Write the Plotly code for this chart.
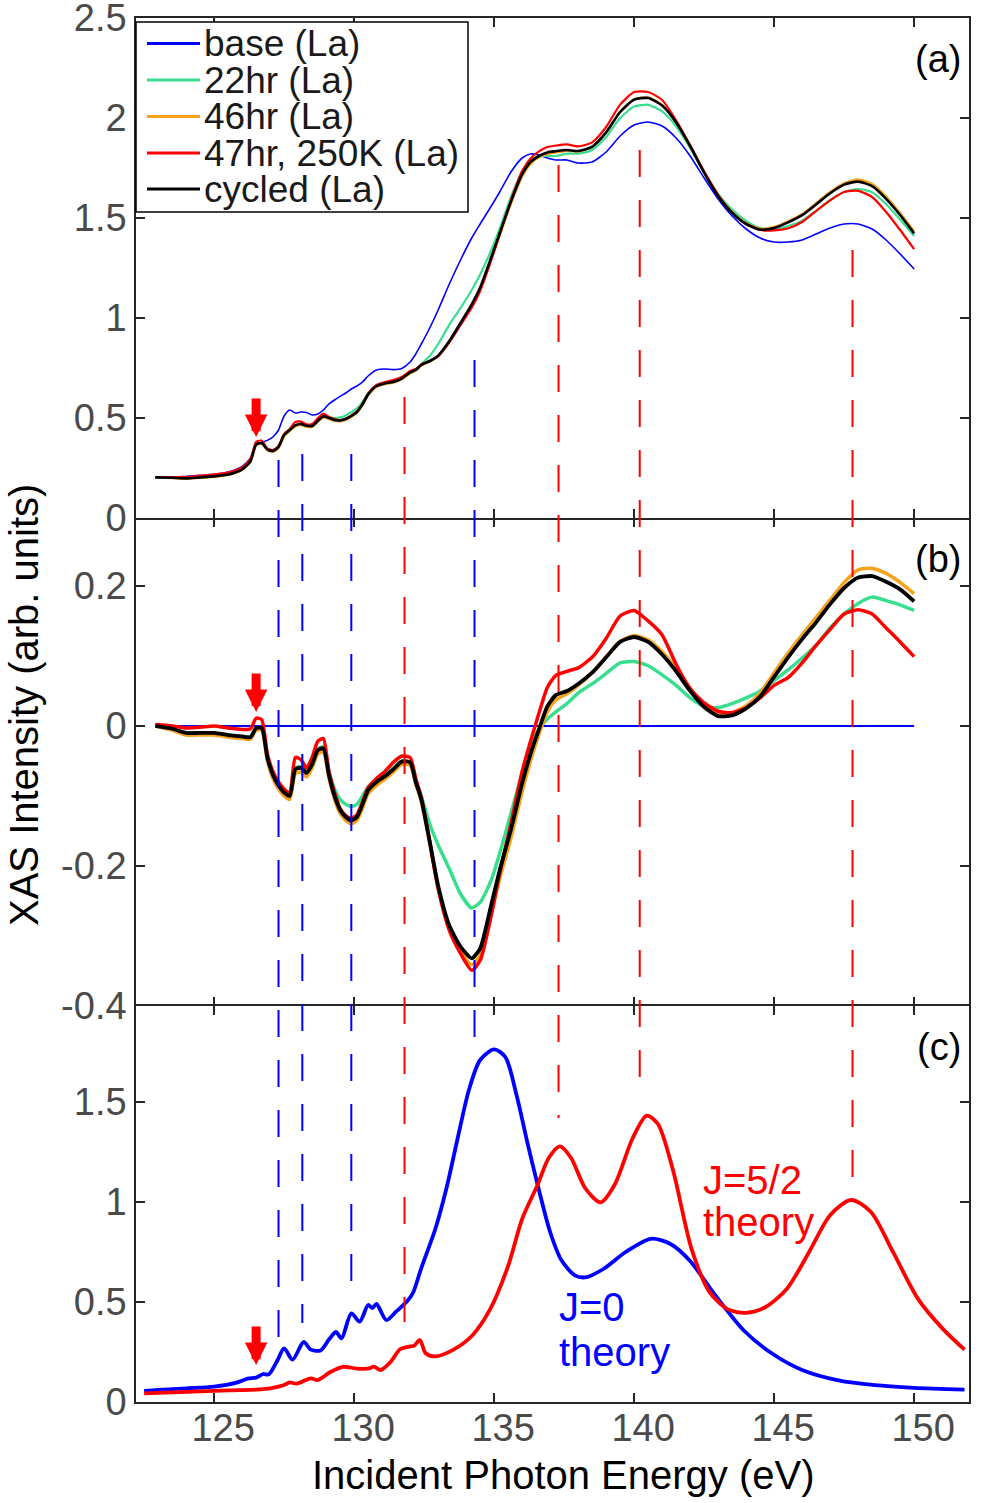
import plotly.graph_objects as go

# ---------------- data ----------------
energy = [122.9, 123.5, 124.0, 124.5, 125.0, 125.5, 126.0, 126.3, 126.5, 126.7,
          126.9, 127.1, 127.3, 127.5, 127.7, 127.9, 128.1, 128.3, 128.5, 128.7,
          128.9, 129.1, 129.3, 129.5, 129.7, 129.9, 130.1, 130.3, 130.5, 130.8,
          131.1, 131.4, 131.7, 132.0, 132.2, 132.4, 132.7, 133.0, 133.4, 133.8,
          134.2, 134.5, 134.9, 135.2, 135.6, 136.0, 136.3, 136.6, 136.9, 137.2,
          137.6, 138.0, 138.5, 139.0, 139.5, 140.0, 140.5, 141.0, 141.5, 142.0,
          142.5, 143.0, 143.5, 144.0, 144.5, 145.0, 145.5, 146.0, 146.5, 147.0,
          147.5, 148.0, 148.5, 149.0, 149.5, 150.0]

base_la = [0.203, 0.205, 0.208, 0.213, 0.218, 0.230, 0.258, 0.300, 0.370, 0.378,
           0.388, 0.405, 0.440, 0.510, 0.540, 0.525, 0.530, 0.528, 0.515, 0.520,
           0.540, 0.570, 0.590, 0.608, 0.625, 0.645, 0.660, 0.680, 0.710, 0.740,
           0.745, 0.742, 0.748, 0.780, 0.820, 0.870, 0.950, 1.040, 1.170, 1.290,
           1.400, 1.470, 1.560, 1.630, 1.730, 1.800, 1.820, 1.815, 1.800, 1.790,
           1.790, 1.775, 1.780, 1.830, 1.910, 1.965, 1.980, 1.960, 1.900, 1.810,
           1.700, 1.595, 1.510, 1.445, 1.400, 1.380, 1.380, 1.390, 1.420, 1.450,
           1.470, 1.470, 1.445, 1.390, 1.320, 1.245]

# difference spectra (sample - base), panel (b)
diff_22hr = [0.000, -0.004, -0.010, -0.010, -0.010, -0.013, -0.015, -0.015, -0.004, -0.004,
             -0.043, -0.068, -0.083, -0.093, -0.097, -0.060, -0.058, -0.064, -0.052, -0.033,
             -0.030, -0.065, -0.090, -0.105, -0.112, -0.115, -0.112, -0.100, -0.087, -0.078,
             -0.070, -0.060, -0.050, -0.052, -0.078, -0.100, -0.140, -0.170, -0.204, -0.240,
             -0.260, -0.252, -0.220, -0.182, -0.125, -0.068, -0.030, -0.005, 0.010, 0.020,
             0.032, 0.047, 0.060, 0.075, 0.090, 0.092, 0.086, 0.073, 0.058, 0.040,
             0.028, 0.026, 0.032, 0.040, 0.050, 0.065, 0.080, 0.097, 0.115, 0.140,
             0.160, 0.175, 0.184, 0.179, 0.173, 0.165]

diff_46hr = [0.000, -0.006, -0.013, -0.013, -0.013, -0.016, -0.018, -0.019, -0.006, -0.006,
             -0.050, -0.075, -0.090, -0.100, -0.105, -0.068, -0.066, -0.073, -0.060, -0.040,
             -0.037, -0.075, -0.105, -0.125, -0.135, -0.140, -0.135, -0.117, -0.097, -0.085,
             -0.076, -0.066, -0.055, -0.056, -0.083, -0.108, -0.168, -0.232, -0.290, -0.322,
             -0.341, -0.328, -0.268, -0.218, -0.160, -0.094, -0.050, -0.012, 0.020, 0.037,
             0.046, 0.058, 0.076, 0.099, 0.121, 0.129, 0.123, 0.106, 0.082, 0.054,
             0.030, 0.018, 0.019, 0.029, 0.047, 0.076, 0.104, 0.130, 0.155, 0.180,
             0.205, 0.223, 0.225, 0.218, 0.205, 0.189]

diff_47hr = [0.002, 0.000, -0.003, -0.002, 0.000, -0.003, -0.005, -0.004, 0.011, 0.009,
             -0.040, -0.065, -0.080, -0.090, -0.095, -0.045, -0.048, -0.060, -0.045, -0.022,
             -0.018, -0.065, -0.095, -0.118, -0.128, -0.132, -0.127, -0.108, -0.088, -0.075,
             -0.065, -0.052, -0.043, -0.045, -0.075, -0.102, -0.165, -0.232, -0.292, -0.325,
             -0.349, -0.335, -0.270, -0.210, -0.140, -0.065, -0.022, 0.018, 0.055, 0.072,
             0.078, 0.083, 0.098, 0.125, 0.157, 0.165, 0.150, 0.130, 0.088, 0.053,
             0.033, 0.021, 0.019, 0.026, 0.040, 0.058, 0.069, 0.090, 0.115, 0.138,
             0.160, 0.166, 0.160, 0.140, 0.120, 0.099]

diff_cycled = [0.000, -0.004, -0.010, -0.010, -0.010, -0.013, -0.015, -0.016, -0.003, -0.003,
               -0.045, -0.070, -0.085, -0.095, -0.100, -0.062, -0.060, -0.067, -0.055, -0.035,
               -0.032, -0.070, -0.100, -0.120, -0.130, -0.135, -0.130, -0.112, -0.092, -0.080,
               -0.072, -0.062, -0.051, -0.052, -0.080, -0.105, -0.165, -0.228, -0.285, -0.315,
               -0.332, -0.318, -0.255, -0.206, -0.148, -0.082, -0.040, -0.005, 0.028, 0.044,
               0.050, 0.060, 0.076, 0.098, 0.120, 0.127, 0.120, 0.102, 0.078, 0.050,
               0.027, 0.014, 0.015, 0.025, 0.042, 0.070, 0.098, 0.124, 0.148, 0.174,
               0.197, 0.212, 0.214, 0.206, 0.195, 0.178]

# theory, panel (c)
j0_energy = [122.5, 123.0, 124.0, 125.0, 125.8, 126.2, 126.5, 126.75, 126.95, 127.25,
             127.5, 127.8, 128.2, 128.45, 128.8, 129.1, 129.35, 129.55, 129.9, 130.2,
             130.5, 130.65, 130.8, 131.15, 131.5, 131.9, 132.1, 132.4, 132.9, 133.3,
             133.7, 134.1, 134.5, 135.0, 135.4, 135.8, 136.2, 136.6, 137.0, 137.4,
             137.9, 138.3, 138.9, 139.7, 140.6, 141.3, 142.0, 142.8, 143.9, 144.9,
             146.0, 147.3, 148.6, 150.0, 151.8]
j0_theory = [0.055, 0.060, 0.068, 0.077, 0.097, 0.117, 0.122, 0.140, 0.138, 0.205,
             0.268, 0.212, 0.300, 0.262, 0.258, 0.312, 0.350, 0.318, 0.443, 0.402,
             0.485, 0.470, 0.490, 0.410, 0.452, 0.505, 0.545, 0.670, 0.865, 1.070,
             1.320, 1.560, 1.710, 1.763, 1.725, 1.535, 1.290, 1.060, 0.850, 0.710,
             0.632, 0.624, 0.665, 0.750, 0.816, 0.790, 0.705, 0.552, 0.360, 0.245,
             0.160, 0.108, 0.084, 0.071, 0.062]

j52_energy = [122.5, 123.5, 124.5, 125.5, 126.5, 127.0, 127.5, 127.7, 127.95, 128.45,
              128.7, 129.15, 129.6, 130.1, 130.55, 130.7, 130.95, 131.3, 131.65, 132.0,
              132.15, 132.35, 132.55, 132.9, 133.55, 134.2, 134.85, 135.5, 136.0, 136.55,
              136.95, 137.35, 137.75, 138.25, 138.8, 139.3, 139.95, 140.45, 140.85, 141.4,
              142.05, 142.7, 143.35, 144.0, 144.65, 145.45, 146.25, 147.0, 147.75, 148.45,
              149.25, 150.15, 151.05, 151.8]
j52_theory = [0.043, 0.048, 0.053, 0.058, 0.062, 0.068, 0.085, 0.098, 0.092, 0.118,
              0.110, 0.150, 0.176, 0.167, 0.168, 0.177, 0.160, 0.200, 0.265, 0.278,
              0.282, 0.310, 0.245, 0.228, 0.262, 0.330, 0.462, 0.680, 0.915, 1.085,
              1.220, 1.278, 1.220, 1.070, 0.998, 1.085, 1.320, 1.432, 1.390, 1.153,
              0.766, 0.548, 0.463, 0.446, 0.471, 0.565, 0.750, 0.934, 1.010, 0.951,
              0.749, 0.513, 0.362, 0.262]

# vertical guide lines: energy, start value in (a), end value in (c)
blue_guide_energy = [127.3, 128.15, 129.9, 134.3]
blue_guide_top = [0.29, 0.32, 0.32, 0.79]
blue_guide_bottom = [0.32, 0.395, 0.525, 1.76]
red_guide_energy = [131.8, 137.3, 140.2, 147.8]
red_guide_top = [0.605, 1.765, 1.84, 1.34]
red_guide_bottom = [0.40, 1.42, 1.51, 1.07]

arrow_energy = 126.5
arrow_tips = {"y": 0.405, "y2": 0.02, "y3": 0.185}

series_names = ["base (La)", "22hr (La)", "46hr (La)", "47hr, 250K (La)", "cycled (La)"]
series_colors = ["#0000FF", "#38DE8E", "#F7A21B", "#FF0000", "#000000"]

# ---------------- layout geometry ----------------
W, H = 982, 1503
ML, MR, MT, MB = 136, 13, 18, 101
PW, PH = W - ML - MR, H - MT - MB
dom_a = [884 / PH, 1.0]
dom_b = [396 / PH, 884 / PH]
dom_c = [0.0, 396 / PH]
rng_x = [122.21, 151.96]
rng_a = [0, 2.5]
rng_b = [-0.4, 0.297]
rng_c = [0, 1.98]


def to_paper(dom, rng, v):
    return dom[0] + (v - rng[0]) / (rng[1] - rng[0]) * (dom[1] - dom[0])


def px_x(px):
    return (px - ML) / PW


def px_y(py):
    return 1 - (py - MT) / PH


FONT = "Liberation Sans, Arial, sans-serif"
AX = "#262626"

fig = go.Figure()

diffs = [[0.0 for _ in base_la], diff_22hr, diff_46hr, diff_47hr, diff_cycled]
widths_a = [1.6, 2.2, 2.2, 2.2, 2.6]
widths_b = [2.0, 3.5, 3.5, 3.5, 3.8]
for name, col, d, wa in zip(series_names, series_colors, diffs, widths_a):
    fig.add_trace(go.Scatter(x=energy, y=[b + v for b, v in zip(base_la, d)],
                             xaxis="x", yaxis="y", mode="lines", name=name,
                             line=dict(color=col, width=wa, shape="spline", smoothing=0.6),
                             showlegend=False))
for name, col, d, wb in zip(series_names, series_colors, diffs, widths_b):
    fig.add_trace(go.Scatter(x=energy, y=d, xaxis="x2", yaxis="y2", mode="lines", name=name,
                             line=dict(color=col, width=wb, shape="spline", smoothing=0.6),
                             showlegend=False))

fig.add_trace(go.Scatter(x=j0_energy, y=j0_theory, xaxis="x3", yaxis="y3", mode="lines",
                         name="J=0 theory",
                         line=dict(color="#0000FF", width=3.8, shape="spline", smoothing=0.8),
                         showlegend=False))
fig.add_trace(go.Scatter(x=j52_energy, y=j52_theory, xaxis="x3", yaxis="y3", mode="lines",
                         name="J=5/2 theory",
                         line=dict(color="#FF0000", width=3.8, shape="spline", smoothing=0.8),
                         showlegend=False))

common = dict(showline=True, linecolor=AX, linewidth=1.6, mirror="ticks", ticks="inside",
              ticklen=9, tickwidth=1.6, tickcolor=AX, showgrid=False, zeroline=False,
              ticklabeloverflow="allow",
              tickfont=dict(family=FONT, size=38, color="#4a4a4a"), automargin=False)
xt = [125, 130, 135, 140, 145, 150]
fig.update_layout(
    xaxis=dict(common, domain=[0, 1], range=rng_x, anchor="y", tickvals=xt, showticklabels=False),
    xaxis2=dict(common, domain=[0, 1], range=rng_x, anchor="y2", tickvals=xt,
                showticklabels=False, showline=False),
    xaxis3=dict(common, domain=[0, 1], range=rng_x, anchor="y3", tickvals=xt,
                ticktext=[str(t) for t in xt], ticklabelstandoff=-8, ticklabelshift=9),
    yaxis=dict(common, domain=dom_a, range=rng_a, anchor="x",
               tickvals=[0, 0.5, 1, 1.5, 2, 2.5], ticktext=["0", "0.5", "1", "1.5", "2", "2.5"]),
    yaxis2=dict(common, domain=dom_b, range=rng_b, anchor="x2",
                tickvals=[-0.4, -0.2, 0, 0.2], ticktext=["-0.4", "-0.2", "0", "0.2"]),
    yaxis3=dict(common, domain=dom_c, range=rng_c, anchor="x3",
                tickvals=[0, 0.5, 1, 1.5], ticktext=["0", "0.5", "1", "1.5"]),
    width=W, height=H, margin=dict(l=ML, r=MR, t=MT, b=MB),
    paper_bgcolor="white", plot_bgcolor="white", showlegend=False,
    font=dict(family=FONT, color="black"),
)

shapes = []
for es, tops, bots, col in [(blue_guide_energy, blue_guide_top, blue_guide_bottom, "#0000FF"),
                            (red_guide_energy, red_guide_top, red_guide_bottom, "#FF0000")]:
    for e, t, b in zip(es, tops, bots):
        shapes.append(dict(type="line", xref="x", yref="paper", x0=e, x1=e,
                           y0=to_paper(dom_a, rng_a, t), y1=to_paper(dom_c, rng_c, b),
                           line=dict(color=col, width=2, dash="27px,23px"), layer="above"))

# legend (manual, MATLAB style)
shapes.append(dict(type="rect", xref="paper", yref="paper", x0=px_x(136), x1=px_x(468),
                   y0=px_y(212), y1=px_y(22), fillcolor="white",
                   line=dict(color="black", width=1.5), layer="above"))
annotations = []
row_y = [43.5, 80, 116.5, 153, 189]
for name, col, ry in zip(series_names, series_colors, row_y):
    shapes.append(dict(type="line", xref="paper", yref="paper", x0=px_x(147), x1=px_x(200),
                       y0=px_y(ry), y1=px_y(ry), line=dict(color=col, width=2.8), layer="above"))
    annotations.append(dict(text=name, xref="paper", yref="paper", x=px_x(202), y=px_y(ry),
                            xanchor="left", yanchor="middle", showarrow=False,
                            font=dict(family=FONT, size=37, color="#1a1a1a")))
fig.update_layout(shapes=shapes)

# panel labels
for lab, yr in [("(a)", "y domain"), ("(b)", "y2 domain"), ("(c)", "y3 domain")]:
    annotations.append(dict(text=lab, xref="paper", yref=yr, x=1, y=1, xshift=-6, yshift=-41,
                            xanchor="right", yanchor="middle", showarrow=False,
                            font=dict(family=FONT, size=38, color="black")))

# red arrows
for yr, tip in arrow_tips.items():
    annotations.append(dict(text="", x=arrow_energy, y=tip, xref="x", yref=yr,
                            showarrow=True, ax=0, ay=-40, arrowcolor="#FF0000",
                            arrowwidth=9, arrowhead=2, arrowsize=0.5, standoff=0))

# theory labels
annotations += [
    dict(text="J=5/2", x=142.4, y=1.11, xref="x3", yref="y3", xanchor="left", yanchor="middle",
         showarrow=False, font=dict(family=FONT, size=40, color="#FF0000")),
    dict(text="theory", x=142.4, y=0.90, xref="x3", yref="y3", xanchor="left", yanchor="middle",
         showarrow=False, font=dict(family=FONT, size=40, color="#FF0000")),
    dict(text="J=0", x=137.25, y=0.475, xref="x3", yref="y3", xanchor="left", yanchor="middle",
         showarrow=False, font=dict(family=FONT, size=40, color="#0000FF")),
    dict(text="theory", x=137.25, y=0.25, xref="x3", yref="y3", xanchor="left", yanchor="middle",
         showarrow=False, font=dict(family=FONT, size=40, color="#0000FF")),
]

# axis titles
annotations += [
    dict(text="Incident Photon Energy (eV)", xref="paper", yref="paper", x=px_x(563), y=0,
         yshift=-73, xanchor="center", yanchor="middle", showarrow=False,
         font=dict(family=FONT, size=40, color="black")),
    dict(text="XAS Intensity (arb. units)", xref="paper", yref="paper", x=0, xshift=24 - ML,
         y=px_y(705), xanchor="center", yanchor="middle", textangle=-90, showarrow=False,
         font=dict(family=FONT, size=40, color="black")),
]
fig.update_layout(annotations=annotations)

fig.write_html("out.html")
